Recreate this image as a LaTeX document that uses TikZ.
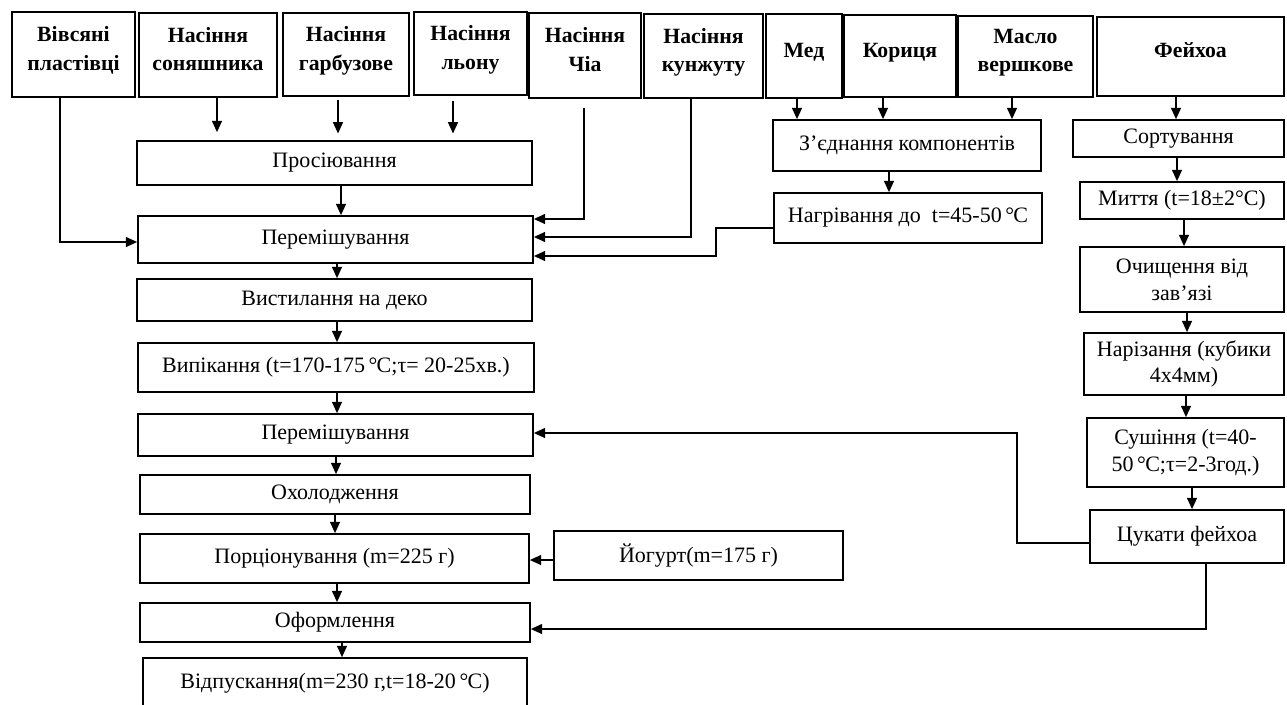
\documentclass[tikz,border=0pt]{standalone}
\usepackage{fontspec}
\setmainfont{Liberation Serif}
\usetikzlibrary{arrows.meta}
\newcommand{\degC}{\,°\kern-0.6pt C}

\begin{document}
\begin{tikzpicture}[x=0.75pt, y=-0.75pt,
  box/.style={draw, line width=1.3pt, inner sep=0pt, align=center,
              font=\fontsize{16.5}{20}\selectfont},
  head/.style={box, font=\fontsize{16.3}{21.5}\selectfont\bfseries,
               execute at end node={\rule[-9pt]{0pt}{0pt}}},
  wh/.style 2 args={minimum width=#1*0.75pt, minimum height=#2*0.75pt},
  arr/.style={line width=1.1pt, -{Triangle[length=8.5pt,width=7.5pt]}}]
\fill[white] (0,0) rectangle (1287,704);
\useasboundingbox (0,0) rectangle (1287,704);

% raw materials
\node[head, wh={123}{85}] (ovs) at (73.5,54.5) {Вівсяні\\пластівці};
\node[head, wh={138}{84}] (son) at (208,55) {Насіння\\соняшника};
\node[head, wh={126}{83}] (garb) at (346,54.5) {Насіння\\гарбузове};
\node[head, wh={113}{83}] (lon) at (470.5,53.5) {Насіння\\льону};
\node[head, wh={112}{85}] (chia) at (585,55.5) {Насіння\\Чіа};
\node[head, wh={119}{84}] (kunzh) at (703.5,56) {Насіння\\кунжуту};
\node[head, wh={76}{84}] (med) at (804,56) {Мед};
\node[head, wh={112}{82}] (kor) at (900,56) {Кориця};
\node[head, wh={135}{81}] (maslo) at (1025.5,56.5) {Масло\\вершкове};
\node[head, wh={187}{79}] (feij) at (1190.5,56.5) {Фейхоа};

% main line
\node[box, wh={395}{44}] (pros) at (334.5,163) {Просіювання};
\node[box, wh={395}{47}] (mix1) at (335.5,239.5) {Перемішування};
\node[box, wh={395}{42}] (vyst) at (334.5,300) {Вистилання на деко};
\node[box, wh={396}{49}] (vypik) at (336,367.5) {Випікання (t=170-175\degC;τ= 20-25хв.)};
\node[box, wh={395}{42}] (mix2) at (335.5,435) {Перемішування};
\node[box, wh={390}{39}] (ohol) at (335,494.5) {Охолодження};
\node[box, wh={389}{49}] (porc) at (334.5,558.5) {Порціонування (m=225 г)};
\node[box, wh={390}{39}] (oform) at (335,622.5) {Оформлення};
\node[box, wh={384}{50}] (vidp) at (335,683) {Відпускання(m=230 г,t=18-20\degC)};
\node[box, wh={289}{49}] (yog) at (698.5,555.5) {Йогурт(m=175 г)};

% honey mixture
\node[box, wh={268}{51}] (zed) at (907,145.5) {З’єднання компонентів};
\node[box, wh={268}{50}] (nagr) at (908,218) {Нагрівання до\ \ t=45-50\degC};

% feijoa line
\node[box, wh={211}{37}] (sort) at (1178.5,138.5) {Сортування};
\node[box, wh={204}{37}] (myt) at (1182,200.5) {Миття (t=18±2°C)};
\node[box, wh={204}{65}] (ochy) at (1182,279.5) {Очищення від\\зав’язі};
\node[box, wh={200}{62}] (nariz) at (1184,364) {Нарізання (кубики\\4х4мм)};
\node[box, wh={197}{69}] (sush) at (1185.5,452.5) {Сушіння (t=40-\\50\degC;τ=2-3год.)};
\node[box, wh={194}{53}] (cuk) at (1187,536.5) {Цукати фейхоа};

% arrows
\draw[arr, shorten >=6pt] (217,0 |- son.south) -- (217,0 |- pros.north);
\draw[arr, shorten <=2pt, shorten >=5pt] (338,0 |- garb.south) -- (338,0 |- pros.north);
\draw[arr, shorten <=4pt, shorten >=5pt] (453,0 |- lon.south) -- (453,0 |- pros.north);
\draw[arr] (341,0 |- pros.south) -- (341,0 |- mix1.north);
\draw[arr] (60,0 |- ovs.south) |- (mix1.west |- 0,242);
\draw[arr, shorten <=7pt] (584,0 |- chia.south) |- (mix1.east |- 0,219);
\draw[arr] (691,0 |- kunzh.south) |- (mix1.east |- 0,237);
\draw[arr] (nagr.west |- 0,228) -| (716,256) -- (mix1.east |- 0,256);
\foreach \a/\b/\x in {med/zed/797, kor/zed/883, maslo/zed/1012, zed/nagr/889,
    feij/sort/1176, sort/myt/1177, myt/ochy/1184, ochy/nariz/1187,
    nariz/sush/1186, sush/cuk/1192,
    mix1/vyst/337, vyst/vypik/337, vypik/mix2/337, mix2/ohol/336,
    ohol/porc/335, porc/oform/337, oform/vidp/342}
  \draw[arr] (\x,0 |- \a.south) -- (\x,0 |- \b.north);
\draw[arr] (cuk.west |- 0,543) -| (1017,433) -- (mix2.east |- 0,433);
\draw[arr] (1206,0 |- cuk.south) |- (oform.east |- 0,629);
\draw[arr] (yog.west |- 0,560) -- (porc.east |- 0,560);
\end{tikzpicture}
\end{document}
